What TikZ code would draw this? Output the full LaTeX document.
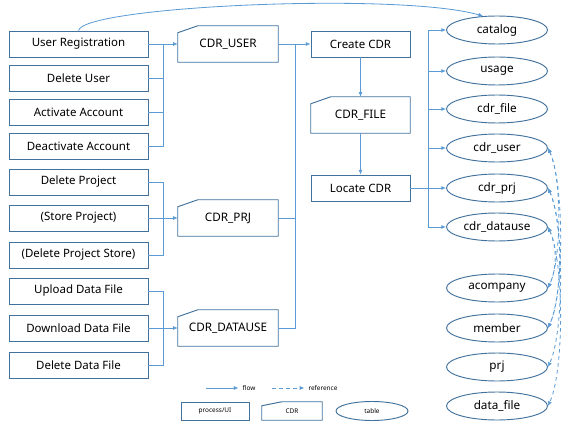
\documentclass[tikz,border=0pt]{standalone}
\usepackage{fontspec}
\setmainfont{Noto Sans}
\usetikzlibrary{arrows.meta,shapes.geometric}
\definecolor{boxline}{RGB}{65,113,156}
\definecolor{flowline}{RGB}{91,155,213}
\tikzset{
    proc/.style={draw=boxline, line width=0.8pt, minimum width=4.17cm, minimum height=0.78cm, font=\fontsize{9.8}{11}\selectfont},
    cdr/.style={minimum width=3cm, minimum height=1.08cm, font=\fontsize{10}{12}\selectfont},
    tbl/.style={ellipse, draw=boxline, line width=0.8pt, minimum width=3.03cm, minimum height=0.84cm, inner sep=0pt, font=\fontsize{10}{12}\selectfont},
    wire/.style={draw=flowline, line width=0.7pt},
    flow/.style={wire, -{Latex[length=4pt,width=3.5pt]}},
    ref/.style={wire, dashed, {Latex[length=4pt,width=3.5pt]}-{Latex[length=4pt,width=3.5pt]}},
    legend/.style={font=\fontsize{5.5}{6.5}\selectfont}
}
\newcommand{\cdrframe}[2][0.21cm]{\draw[boxline, line width=0.8pt] ([yshift=-#1]#2.north west) -- ([xshift=0.6cm]#2.north west) -- (#2.north east) -- (#2.south east) -- (#2.south west) -- cycle;}
\begin{document}
\begin{tikzpicture}[x=0.03cm, y=-0.03cm]
    \useasboundingbox (0,0) rectangle (563,426);
    \foreach \name/\y/\txt in {reg/44/User Registration, deluser/78/Delete User, act/112/Activate Account, deact/146/Deactivate Account,
        delprj/182/Delete Project, store/218/{(Store Project)}, delstore/255/{(Delete Project Store)},
        upload/291/Upload Data File, download/328/Download Data File, deldata/365/Delete Data File} {
        \node[proc] (\name) at (78.5,\y) {\txt};
    }
    \node[cdr] (ucdr) at (228,44) {CDR\_USER};
    \node[cdr] (pcdr) at (228,218) {CDR\_PRJ};
    \node[cdr] (dcdr) at (228,328) {CDR\_DATAUSE};
    \node[proc, minimum width=2.97cm] (create) at (360.5,44) {Create CDR};
    \node[cdr, minimum width=2.97cm] (cfile) at (360.5,115) {CDR\_FILE};
    \node[proc, minimum width=2.97cm] (locate) at (360.5,188) {Locate CDR};
    \cdrframe{ucdr}
    \cdrframe{pcdr}
    \cdrframe{dcdr}
    \cdrframe{cfile}
    \foreach \name/\y/\txt in {catalog/30/catalog, usage/71/usage, cdrfile/109/cdr\_file, cdruser/148/cdr\_user, cdrprj/188/cdr\_prj, cdrdatause/227/cdr\_datause,
        acompany/288/acompany, member/328/member, prj/367/prj, datafile/406/data\_file} {
        \node[tbl] (\name) at (497,\y) {\txt};
    }

    \coordinate (ubus) at (163,44);
    \coordinate (pbus) at (163,218);
    \coordinate (dbus) at (163,328);
    \coordinate (cbus) at (295,44);
    \coordinate (tbus) at (428,188);
    \draw[flow] (reg.east) -- (ucdr.west);
    \foreach \n in {deluser, act, deact} \draw[wire] (\n.east) -| (ubus);
    \draw[flow] (store.east) -- (pcdr.west);
    \foreach \n in {delprj, delstore} \draw[wire] (\n.east) -| (pbus);
    \draw[flow] (download.east) -- (dcdr.west);
    \foreach \n in {upload, deldata} \draw[wire] (\n.east) -| (dbus);
    \draw[flow] (ucdr.east) -- (create.west);
    \foreach \n in {pcdr, dcdr} \draw[wire] (\n.east) -| (cbus);
    \draw[flow] (create) -- (cfile);
    \draw[flow] (cfile) -- (locate);
    \draw[wire] (locate.east) -- (tbus);
    \foreach \n in {catalog, usage, cdrfile, cdruser, cdrprj, cdrdatause} \draw[flow] (tbus) |- (\n.west);
    \draw[flow] (reg.north) .. controls (84,6) and (400,-8) .. (catalog.135);

    \foreach \a/\b/\l in {cdruser/acompany/0.6, cdruser/member/0.55, cdrprj/prj/0.55, cdrprj/member/0.65, cdrdatause/datafile/0.55, cdrdatause/acompany/0.9} {
        \draw[ref] (\a.east) to[out=-65, in=65, looseness=\l] (\b.east);
    }

    \coordinate (flowstart) at (206,388);
    \node[legend] (flowtxt) at (249,388) {flow};
    \draw[flow] (flowstart) -- (flowtxt.west);
    \coordinate (refstart) at (272,388);
    \node[legend] (reftxt) at (323,388) {reference};
    \draw[wire, dashed, -{Latex[length=4pt,width=3.5pt]}] (refstart) -- (reftxt.west);
    \node[draw=boxline, line width=0.8pt, minimum width=2.04cm, minimum height=0.54cm, legend] (lproc) at (215,411) {process/UI};
    \node[minimum width=1.8cm, minimum height=0.54cm, legend] (lcdr) at (292,411) {CDR};
    \cdrframe[0.12cm]{lcdr}
    \node[ellipse, draw=boxline, line width=0.8pt, minimum width=2.16cm, minimum height=0.57cm, inner sep=0pt, legend] (ltbl) at (372,411) {table};
\end{tikzpicture}
\end{document}
